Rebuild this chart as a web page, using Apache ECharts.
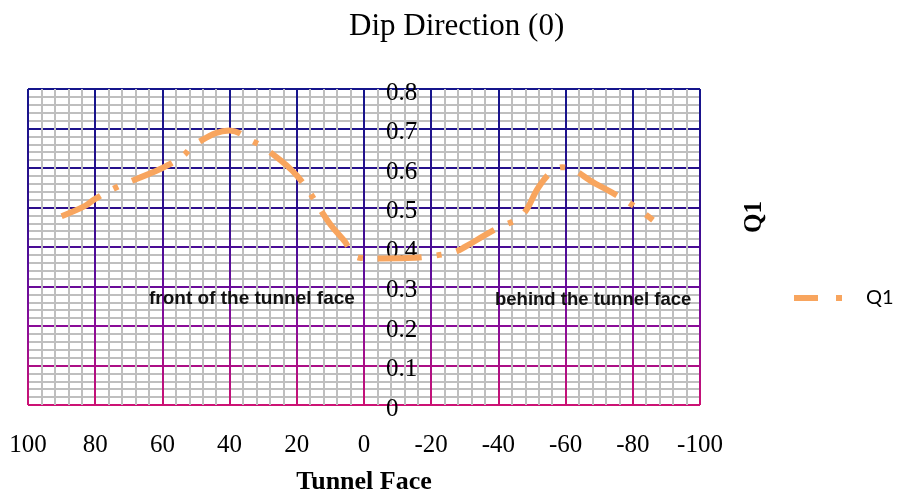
<!DOCTYPE html>
<html>
<head>
<meta charset="utf-8">
<script src="https://cdn.jsdelivr.net/npm/echarts@6/dist/echarts.min.js"></script>
<style>html,body{margin:0;padding:0;background:#fff;}#c{width:898px;height:493px;}</style>
</head>
<body>
<div id="c"></div>
<script>
// Tunnel face position (distance) and Q1 values
var tunnelFace = [90, 83, 80, 73.5, 67.5, 60, 54, 50, 40, 33, 30, 20, 10, 5.8, 4.3, 1.5, -5, -13, -20, -27, -30, -36, -40, -47, -52, -56, -59, -69, -74, -80, -86];
var q1 = [0.478, 0.504, 0.522, 0.552, 0.573, 0.600, 0.630, 0.662, 0.695, 0.667, 0.653, 0.581, 0.457, 0.415, 0.396, 0.373, 0.371, 0.372, 0.377, 0.388, 0.400, 0.430, 0.449, 0.480, 0.552, 0.592, 0.602, 0.560, 0.537, 0.506, 0.468];
var seriesName = 'Q1';
var titleText = 'Dip Direction (0)';
var xName = 'Tunnel Face';
var yName = 'Q1';
var noteFront = 'front of the tunnel face';
var noteBehind = 'behind the tunnel face';

var chart = echarts.init(document.getElementById('c'), null, {renderer: 'canvas'});
var serif = '"Liberation Serif", "Times New Roman", serif';
var sans = '"Liberation Sans", Arial, sans-serif';

var gridGradient = {
  type: 'linear', x: 0, y: 89, x2: 0, y2: 405, global: true,
  colorStops: [
    {offset: 0, color: '#15158C'},
    {offset: 0.38, color: '#2E0E8C'},
    {offset: 0.55, color: '#560C9A'},
    {offset: 0.75, color: '#8A0C98'},
    {offset: 1, color: '#CC1274'}
  ]
};

var data = tunnelFace.map(function (x, i) { return [x, q1[i]]; });

chart.setOption({
  animation: false,
  backgroundColor: '#ffffff',
  title: {
    text: titleText,
    left: 344,
    top: 6,
    textStyle: {fontFamily: serif, fontSize: 31, fontWeight: 'normal', color: '#000'}
  },
  legend: {
    data: [seriesName],
    left: 791,
    top: 288,
    padding: 0,
    itemWidth: 48,
    itemHeight: 20,
    itemStyle: {opacity: 0},
    lineStyle: {width: 6, type: [24, 18, 6, 18], color: '#F8A55E', cap: 'butt'},
    textStyle: {fontFamily: 'Lato, "Liberation Sans", sans-serif', fontSize: 20, color: '#000', padding: [0, 0, 0, 19]}
  },
  grid: {left: 28, right: 198, top: 89, bottom: 88, outerBoundsMode: 'none', containLabel: false},
  xAxis: {
    type: 'value',
    min: -100,
    max: 100,
    interval: 20,
    inverse: true,
    name: xName,
    nameLocation: 'middle',
    nameGap: 64,
    nameTextStyle: {fontFamily: serif, fontSize: 26, fontWeight: 'bold', color: '#000'},
    axisLine: {show: false},
    axisTick: {show: false},
    axisLabel: {fontFamily: serif, fontSize: 25, color: '#000', margin: 28},
    splitLine: {show: true, lineStyle: {color: gridGradient, width: 2}},
    minorTick: {show: false, splitNumber: 5},
    minorSplitLine: {show: true, lineStyle: {color: '#BFBFBF', width: 2}}
  },
  yAxis: {
    type: 'value',
    min: 0,
    max: 0.8,
    interval: 0.1,
    position: 'left',
    offset: -336,
    axisLine: {show: false},
    axisTick: {show: false},
    axisLabel: {inside: true, margin: 22, fontFamily: serif, fontSize: 25, color: '#000', verticalAlign: 'top', lineHeight: 8},
    splitLine: {show: true, lineStyle: {color: gridGradient, width: 2}},
    minorTick: {show: false, splitNumber: 5},
    minorSplitLine: {show: true, lineStyle: {color: '#BFBFBF', width: 2}}
  },
  graphic: [
    {type: 'text', x: 755, y: 217, rotation: Math.PI / 2,
     style: {text: yName, font: 'bold 25px ' + serif, fill: '#000', textAlign: 'center', textVerticalAlign: 'middle'}},
    {type: 'text', left: 149, top: 289, z: 10,
     style: {text: noteFront, font: 'bold 19px ' + sans, fill: '#111'}},
    {type: 'text', left: 495, top: 290, z: 10,
     style: {text: noteBehind, font: 'bold 18.5px ' + sans, fill: '#111'}}
  ],
  series: [{
    name: seriesName,
    type: 'line',
    data: data,
    smooth: 0.4,
    symbol: 'none',
    z: 5,
    lineStyle: {color: '#F8A55E', width: 6, type: [44, 15, 5, 15], cap: 'butt'},
    itemStyle: {color: '#F8A55E'}
  }]
});
</script>
</body>
</html>
